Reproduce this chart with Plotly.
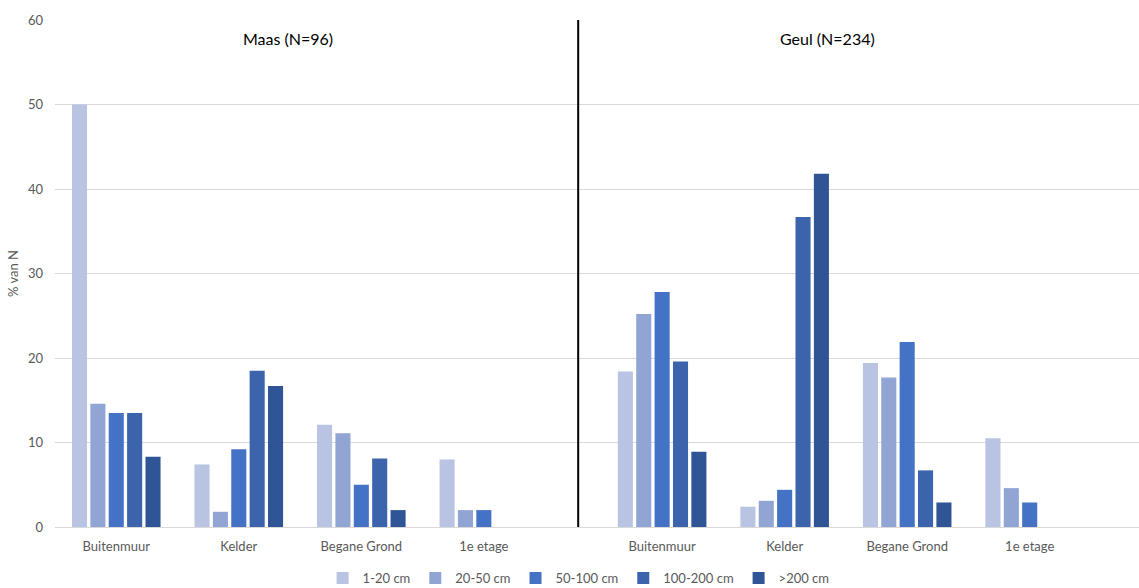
import plotly.graph_objects as go

# Categories per river
locations = ["Buitenmuur", "Kelder", "Begane Grond", "1e etage"]
rivers = ["Maas (N=96)", "Geul (N=234)"]
depth_classes = ["1-20 cm", "20-50 cm", "50-100 cm", "100-200 cm", ">200 cm"]

# % van N per depth class, Maas then Geul (4 locations each)
v_1_20 = [50.0, 7.4, 12.1, 8.0, 18.4, 2.4, 19.4, 10.5]
v_20_50 = [14.6, 1.8, 11.1, 2.0, 25.2, 3.1, 17.7, 4.6]
v_50_100 = [13.5, 9.2, 5.0, 2.0, 27.8, 4.4, 21.9, 2.9]
v_100_200 = [13.5, 18.5, 8.1, 0.0, 19.6, 36.7, 6.7, 0.0]
v_200_plus = [8.3, 16.7, 2.0, 0.0, 8.9, 41.8, 2.9, 0.0]

series = [v_1_20, v_20_50, v_50_100, v_100_200, v_200_plus]
colors = ["#B9C3E2", "#91A5D5", "#4472C4", "#3B64AD", "#2F5597"]

# x positions: second river block shifted to leave room for the divider
block_shift = 1.455
xpos = [i for i in range(4)] + [i + 4 + (block_shift - 1) for i in range(4)]
divider_x = 3.77

tick_text = locations + locations

fig = go.Figure()
for name, vals, col in zip(depth_classes, series, colors):
    fig.add_trace(go.Bar(
        x=xpos, y=vals, name=name,
        marker=dict(color=col, line=dict(width=0)),
    ))

font_family = "Lato, 'Open Sans', sans-serif"
grey = "#595959"

fig.update_layout(
    width=1139, height=588,
    margin=dict(l=55, r=0, t=20, b=61),
    paper_bgcolor="white", plot_bgcolor="white",
    barmode="group", bargap=0.25, bargroupgap=0.18,
    font=dict(family=font_family, color=grey, size=13),
    showlegend=True,
    legend=dict(
        orientation="h", xref="container", yref="container",
        x=0.508, y=0.017, xanchor="center", yanchor="middle",
        font=dict(size=13, color=grey), itemwidth=30,
        traceorder="normal",
    ),
    xaxis=dict(
        range=[-0.5, 8.347], tickmode="array", tickvals=xpos, ticktext=tick_text,
        showgrid=False, zeroline=False, showline=False, ticks="",
        tickfont=dict(size=13, color=grey), ticklabelstandoff=10,
    ),
    yaxis=dict(
        range=[0, 60], dtick=10, showgrid=True, gridcolor="#D9D9D9", gridwidth=1,
        zeroline=True, zerolinecolor="#D9D9D9", zerolinewidth=1, showline=False,
        tickfont=dict(size=13, color=grey), ticks="", ticklen=0, ticklabelstandoff=11,
        title=dict(text="% van N", font=dict(size=13, color=grey), standoff=6),
    ),
)

# vertical divider between the two rivers
fig.add_shape(type="line", xref="x", yref="y", x0=divider_x, x1=divider_x,
              y0=0, y1=60, line=dict(color="black", width=2))

# river titles
for txt, px in zip(rivers, [0.2147, 0.7128]):
    fig.add_annotation(text=txt, xref="paper", yref="paper", x=px, y=0.963,
                       showarrow=False, font=dict(size=16, color="black", family=font_family),
                       xanchor="center", yanchor="middle")

fig.write_html("out.html")
